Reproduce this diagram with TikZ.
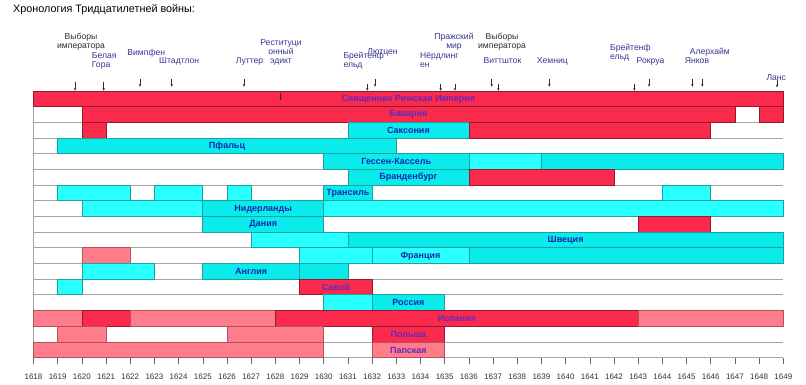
\documentclass[tikz,border=0pt]{standalone}
\usepackage{fontspec}
\setmainfont{Liberation Sans}
\usetikzlibrary{arrows.meta}
\definecolor{hred}{RGB}{250,42,76}
\definecolor{hredb}{RGB}{150,25,45}
\definecolor{hpink}{RGB}{255,125,138}
\definecolor{hpinkb}{RGB}{180,80,95}
\definecolor{hcyan}{RGB}{10,236,236}
\definecolor{hcyanl}{RGB}{40,255,255}
\definecolor{hcyanb}{RGB}{30,160,160}
\definecolor{rowgrey}{RGB}{165,165,165}
\definecolor{txtred}{RGB}{100,40,190}
\definecolor{txtcyan}{RGB}{20,40,170}
\definecolor{evblue}{RGB}{55,55,150}
\definecolor{evgrey}{RGB}{45,45,45}
\newcommand\XX[1]{(33.5+(#1-1618)*24.187)}
\newcommand\YY[1]{(91+(#1)*15.68)}
\newcommand\tlseg[4]{\path[#4] ({\XX{#2}},{\YY{#1}}) rectangle ({\XX{#3}},{\YY{#1}+15.68});}
\newcommand\tllab[6]{\node[#5] (#1) at ({(\XX{#3}+\XX{#4})/2},{\YY{#2}+8.1}) {#6};}
\newcommand\tlarr[4]{\coordinate (#1s) at (#2,#3); \coordinate (#1e) at (#2,#4); \draw[evarrow] (#1s) -- (#1e);}
\tikzset{
  redbox/.style={fill=hred, draw=hredb, line width=0.7pt},
  pinkbox/.style={fill=hpink, draw=hpinkb, line width=0.7pt},
  cyanbox/.style={fill=hcyan, draw=hcyanb, line width=0.7pt},
  cyanlbox/.style={fill=hcyanl, draw=hcyanb, line width=0.7pt},
  rowline/.style={draw=rowgrey, line width=0.7pt},
  onred/.style={font=\fontsize{9}{10}\selectfont\bfseries, text=txtred, inner sep=0pt},
  oncyan/.style={font=\fontsize{9}{10}\selectfont\bfseries, text=txtcyan, inner sep=0pt},
  evlab/.style={font=\fontsize{8.6}{9}\selectfont, text=evblue, align=center, inner sep=0pt},
  evleft/.style={evlab, align=left, anchor=west},
  evarrow/.style={draw=evgrey, line width=0.5pt, -{Stealth[length=2.6pt,width=2.4pt]}},
  yearlab/.style={font=\fontsize{8}{9}\selectfont, text=black!80, inner sep=0pt},
  tick/.style={draw=black!60, line width=0.6pt}
}
\begin{document}
\begin{tikzpicture}[x=1pt,y=-1pt]
\useasboundingbox (0,0) rectangle (806,385);
\fill[white] (0,0) rectangle (806,385);
% title
\node[anchor=west, inner sep=0pt, font=\fontsize{10.8}{12}\selectfont] (title) at (13,10) {Хронология Тридцатилетней войны:};
% row grid
\foreach \i in {0,...,17} {\draw[rowline] ({\XX{1618}},{\YY{\i}}) -- ({\XX{1649}},{\YY{\i}});}
\draw[rowline] ({\XX{1618}},{\YY{0}}) -- ({\XX{1618}},{\YY{17}});
% 0 HRE
\tlseg{0}{1618}{1649}{redbox}
\tllab{lhre}{0}{1618}{1649}{onred}{Священная Римская Империя}
% 1 Bavaria
\tlseg{1}{1620}{1647}{redbox}
\tlseg{1}{1648}{1649}{redbox}
\tllab{lbav}{1}{1620}{1647}{onred}{Бавария}
% 2 Saxony
\tlseg{2}{1620}{1621}{redbox}
\tlseg{2}{1631}{1636}{cyanbox}
\tlseg{2}{1636}{1646}{redbox}
\tllab{lsax}{2}{1631}{1636}{oncyan}{Саксония}
% 3 Palatinate
\tlseg{3}{1619}{1633}{cyanbox}
\tllab{lpfa}{3}{1619}{1633}{oncyan}{Пфальц}
% 4 Hesse-Kassel
\tlseg{4}{1630}{1636}{cyanbox}
\tlseg{4}{1636}{1639}{cyanlbox}
\tlseg{4}{1639}{1649}{cyanbox}
\tllab{lhes}{4}{1630}{1636}{oncyan}{Гессен-Кассель}
% 5 Brandenburg
\tlseg{5}{1631}{1636}{cyanbox}
\tlseg{5}{1636}{1642}{redbox}
\tllab{lbra}{5}{1631}{1636}{oncyan}{Бранденбург}
% 6 Transylvania
\tlseg{6}{1619}{1622}{cyanlbox}
\tlseg{6}{1623}{1625}{cyanlbox}
\tlseg{6}{1626}{1627}{cyanlbox}
\tlseg{6}{1630}{1632}{cyanbox}
\tlseg{6}{1644}{1646}{cyanlbox}
\tllab{ltra}{6}{1630}{1632}{oncyan}{Трансиль}
% 7 Netherlands
\tlseg{7}{1620}{1625}{cyanlbox}
\tlseg{7}{1625}{1630}{cyanbox}
\tlseg{7}{1630}{1649}{cyanlbox}
\tllab{lnid}{7}{1625}{1630}{oncyan}{Нидерланды}
% 8 Denmark
\tlseg{8}{1625}{1630}{cyanbox}
\tlseg{8}{1643}{1646}{redbox}
\tllab{ldan}{8}{1625}{1630}{oncyan}{Дания}
% 9 Sweden
\tlseg{9}{1627}{1631}{cyanlbox}
\tlseg{9}{1631}{1649}{cyanbox}
\tllab{lswe}{9}{1631}{1649}{oncyan}{Швеция}
% 10 France
\tlseg{10}{1620}{1622}{pinkbox}
\tlseg{10}{1629}{1632}{cyanlbox}
\tlseg{10}{1632}{1636}{cyanlbox}
\tlseg{10}{1636}{1649}{cyanbox}
\tllab{lfra}{10}{1632}{1636}{oncyan}{Франция}
% 11 England
\tlseg{11}{1620}{1623}{cyanlbox}
\tlseg{11}{1625}{1629}{cyanbox}
\tlseg{11}{1629}{1631}{cyanbox}
\tllab{leng}{11}{1625}{1629}{oncyan}{Англия}
% 12 Savoy
\tlseg{12}{1619}{1620}{cyanlbox}
\tlseg{12}{1629}{1632}{redbox}
\tllab{lsav}{12}{1629}{1632}{onred}{Савой}
% 13 Russia
\tlseg{13}{1630}{1632}{cyanlbox}
\tlseg{13}{1632}{1635}{cyanbox}
\tllab{lrus}{13}{1632}{1635}{oncyan}{Россия}
% 14 Spain
\tlseg{14}{1618}{1620}{pinkbox}
\tlseg{14}{1620}{1622}{redbox}
\tlseg{14}{1622}{1628}{pinkbox}
\tlseg{14}{1628}{1643}{redbox}
\tlseg{14}{1643}{1649}{pinkbox}
\tllab{lspa}{14}{1628}{1643}{onred}{Испания}
% 15 Poland
\tlseg{15}{1619}{1621}{pinkbox}
\tlseg{15}{1626}{1630}{pinkbox}
\tlseg{15}{1632}{1635}{redbox}
\tllab{lpol}{15}{1632}{1635}{onred}{Польша}
% 16 Papal
\tlseg{16}{1618}{1630}{pinkbox}
\tlseg{16}{1632}{1635}{pinkbox}
\tllab{lpap}{16}{1632}{1635}{onred}{Папская}
% axis
\foreach \yr in {1618,...,1649} {
  \draw[tick] ({\XX{\yr}},358.3) -- ({\XX{\yr}},364.3);
  \node[yearlab] (yr\yr) at ({\XX{\yr}},376.5) {\yr};
}
% event labels
\node[evlab,text=evgrey] (ev1) at (81,42) {Выборы\\императора};
\node[evleft] (ev2) at (91.7,61) {Белая\\Гора};
\node[evlab] (ev3) at (146.3,53.3) {Вимпфен};
\node[evlab] (ev4) at (179.2,61.7) {Штадтлон};
\node[evlab] (ev5) at (249.5,61.7) {Луттер};
\node[evlab] (ev6) at (281,52.7) {Реституци\\онный\\эдикт};
\node[evleft] (ev7) at (343.3,60.5) {Брейтенф\\ельд};
\node[evlab] (ev8) at (382.5,52.7) {Лютцен};
\node[evleft] (ev9) at (420,60.5) {Нёрдлинг\\ен};
\node[evlab] (ev10) at (454,42.2) {Пражский\\мир};
\node[evlab,text=evgrey] (ev11) at (502,42.2) {Выборы\\императора};
\node[evlab] (ev12) at (502.5,61) {Виттшток};
\node[evlab] (ev13) at (552.3,61) {Хемниц};
\node[evleft] (ev14) at (610,52.2) {Брейтенф\\ельд};
\node[evlab] (ev15) at (650.5,61) {Рокруа};
\node[evlab] (ev16) at (709.8,52.3) {Алерхайм};
\node[evlab] (ev17) at (697,61) {Янков};
\node[evlab] (ev18) at (776.3,77.3) {Ланс};
% event arrows
\tlarr{a1}{75}{81.7}{90.7}
\tlarr{a2}{103.7}{81.7}{90.7}
\tlarr{a3}{140}{79.3}{86.7}
\tlarr{a4}{171.7}{79.3}{86.7}
\tlarr{a5}{244}{79.3}{86.7}
\tlarr{a6}{280.7}{93.3}{100}
\tlarr{a7}{367.3}{84}{90.7}
\tlarr{a8}{375}{79}{86.7}
\tlarr{a9}{440.7}{84}{90.7}
\tlarr{a10}{455}{84}{90.7}
\tlarr{a11}{491.7}{79}{86.7}
\tlarr{a12}{498.3}{84}{90.7}
\tlarr{a13}{549.3}{79}{86.7}
\tlarr{a14}{634.3}{84}{90.7}
\tlarr{a15}{649}{79}{86.7}
\tlarr{a16}{692.3}{79}{86.7}
\tlarr{a17}{702.3}{79}{86.7}
\tlarr{a18}{777}{80}{87.3}
\end{tikzpicture}
\end{document}
